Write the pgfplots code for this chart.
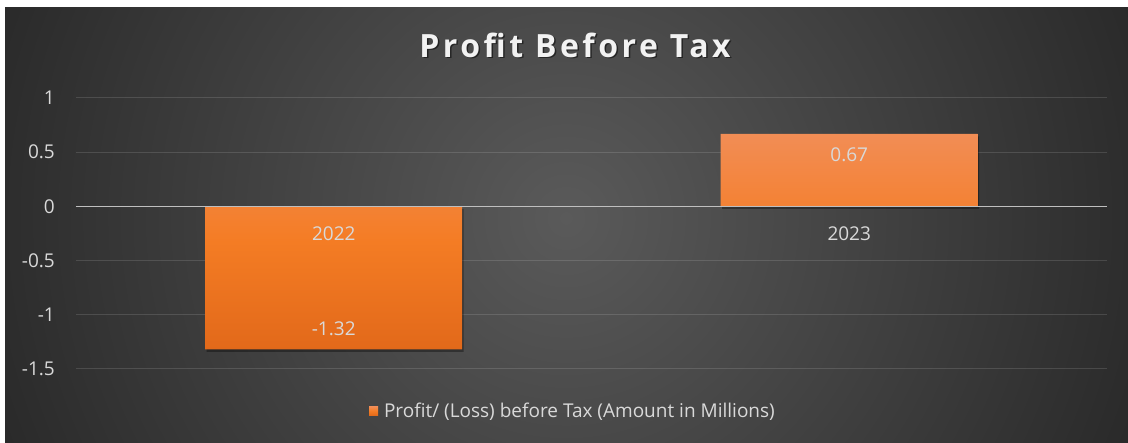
\documentclass[border=0pt]{standalone}
\usepackage{fontspec}
\setmainfont{Open Sans}
\usepackage{pgfplots}
\pgfplotsset{compat=1.18}
\definecolor{bgin}{HTML}{5A5A5A}
\definecolor{bgout}{HTML}{272727}
\definecolor{bartop}{HTML}{F28D55}
\definecolor{barmid}{HTML}{F47C24}
\definecolor{barbot}{HTML}{E2691A}
\definecolor{barflat}{HTML}{F47B20}
\definecolor{txt}{HTML}{D9D9D9}
\definecolor{zeroln}{HTML}{BFBFBF}
\newcommand\lblfont{\fontsize{19}{19}\selectfont}
\begin{document}
\begin{tikzpicture}[x=1pt,y=1pt]
\fill[white, use as bounding box] (0,0) rectangle (1128,443);
\begin{scope}
\clip (5,0) rectangle (1128,435);
\shade[inner color=bgin, outer color=bgout] (566,225) circle (640);
\end{scope}
\node[text=black, opacity=0.5, font=\fontsize{32}{32}\selectfont\bfseries\addfontfeatures{LetterSpace=11}] at (576.5,397) {Profit Before Tax};
\node[text=white!95!black, font=\fontsize{32}{32}\selectfont\bfseries\addfontfeatures{LetterSpace=11}] at (575,398) {Profit Before Tax};
\begin{axis}[at={(76pt,74pt)}, anchor=south west, scale only axis,
  width=1031pt, height=271pt,
  xmin=-0.5, xmax=1.5, ymin=-1.5, ymax=1,
  axis line style={draw=none},
  xtick=\empty,
  ytick={-1.5,-1,-0.5,0,0.5,1},
  yticklabels={-1.5,-1,-0.5,0,0.5,1},
  major tick length=0pt,
  ymajorgrids, grid style={white, opacity=0.13, line width=1pt},
  yticklabel style={anchor=east, inner sep=0pt, xshift=-21pt, text=txt, font=\lblfont},
  ybar, bar width=257pt, bar shift=0pt,
  clip=false,
  legend style={at={(0.482,-0.155)}, anchor=center, draw=none, fill=none,
    text=txt, font=\lblfont},
  legend image code/.code={\fill[barflat] (0pt,-4.5pt) rectangle (9pt,4.5pt); \path (13pt,0pt);},
]
\addplot[forget plot, bar shift=0pt, draw=none, fill=black, opacity=0.35, xshift=1.5pt, yshift=-2.5pt]
  coordinates {(0,-1.32) (1,0.67)};
\addplot[bar shift=0pt, draw=none, top color=bartop, bottom color=barbot, middle color=barmid,
  nodes near coords, point meta=explicit symbolic,
  visualization depends on={y \as \rawy},
  every node near coord/.append style={anchor=center, text=txt, font=\lblfont,
    yshift={ifthenelse(\rawy<0,21,-21)}}]
  coordinates {(0,-1.32) [-1.32] (1,0.67) [0.67]};
\addlegendentry{Profit/ (Loss) before Tax (Amount in Millions)}
\draw[zeroln, line width=1.5pt] (axis cs:-0.5,0) -- (axis cs:1.5,0);
\node[text=txt, font=\lblfont] at (axis cs:0,0) [yshift=-27pt] {2022};
\node[text=txt, font=\lblfont] at (axis cs:1,0) [yshift=-27pt] {2023};
\end{axis}
\end{tikzpicture}
\end{document}
